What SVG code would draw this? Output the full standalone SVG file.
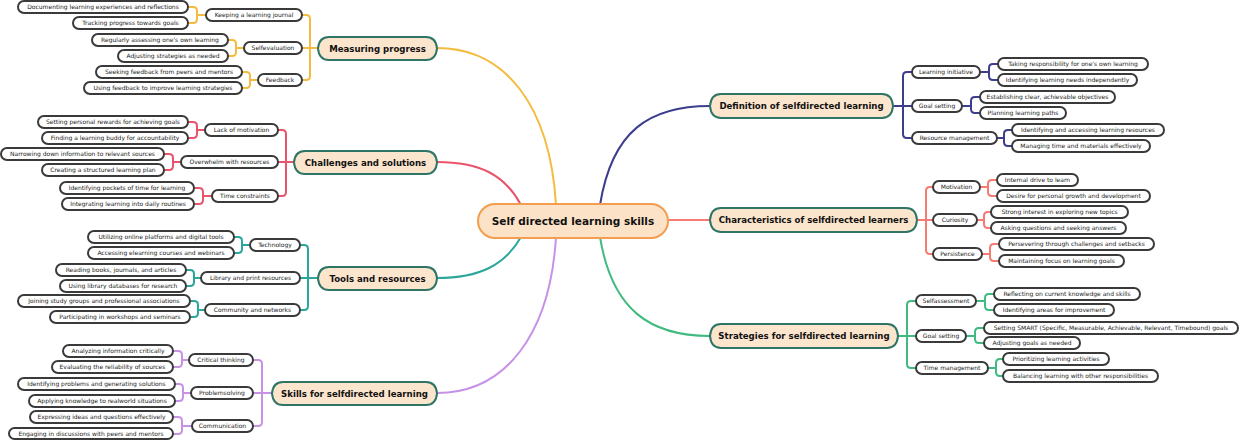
<svg xmlns="http://www.w3.org/2000/svg" width="1240" height="440" viewBox="0 0 1240 440">
<style>
.c{fill:none;stroke-width:2;stroke-linecap:round;stroke-linejoin:round}
.y{stroke:#f3bb3f}.r{stroke:#e9546b}.t{stroke:#2ba69c}.p{stroke:#c792e6}.n{stroke:#3d3d8e}.s{stroke:#f47a72}.g{stroke:#3fbb80}
.leaf rect{fill:#fff;stroke:#3a3a3a;stroke-width:2}
.leaf text{font-family:"DejaVu Sans",sans-serif;font-size:6px;fill:#222;text-anchor:middle}
.main path{fill:#fce5cd;stroke:#2e7565;stroke-width:2}
.main text{font-family:"DejaVu Sans",sans-serif;font-size:8.6px;font-weight:bold;fill:#111;text-anchor:middle}
.root rect{fill:#fce3c8;stroke:#f29d4f;stroke-width:2}
.root text{font-family:"DejaVu Sans",sans-serif;font-size:10.5px;font-weight:bold;fill:#111;text-anchor:middle}
</style>
<g id="connectors">
<path class="c y" d="M556 205 C550 105 505 48 437 48"/>
<path class="c r" d="M521 205 C505 175 480 162 437 162"/>
<path class="c t" d="M521 237 C505 265 480 278 437 278"/>
<path class="c p" d="M556 237 C550 335 505 393 437 393"/>
<path class="c n" d="M600 205 C612 130 650 106 710 106"/>
<path class="c s" d="M668 220 H710"/>
<path class="c g" d="M600 237 C612 310 650 336 710 336"/>
<path class="c y" d="M318 48 H310 V19 Q310 15 306 15 H302 M318 48 H302 M310 48 V76 Q310 80 306 80 H302"/>
<path class="c y" d="M206 15 H197 V11 Q197 7 193 7 H188 M197 15 V19 Q197 23 193 23 H188"/>
<path class="c y" d="M244 48 H236 V44 Q236 40 232 40 H228 M236 48 V52 Q236 56 232 56 H228"/>
<path class="c y" d="M258 80 H250 V76 Q250 72 246 72 H242 M250 80 V84 Q250 88 246 88 H242"/>
<path class="c r" d="M294 162 H286 V134 Q286 130 282 130 H278 M294 162 H278 M286 162 V192 Q286 196 282 196 H278"/>
<path class="c r" d="M205 130 H197 V126 Q197 122 193 122 H188 M197 130 V134 Q197 138 193 138 H188"/>
<path class="c r" d="M181 162 H173 V158 Q173 154 169 154 H164 M173 162 V166 Q173 170 169 170 H164"/>
<path class="c r" d="M212 196 H203 V192 Q203 188 199 188 H194 M203 196 V200 Q203 204 199 204 H194"/>
<path class="c t" d="M318 278 H308 V249 Q308 245 304 245 H300 M318 278 H300 M308 278 V306 Q308 310 304 310 H300"/>
<path class="c t" d="M250 245 H242 V241 Q242 237 238 237 H234 M242 245 V249 Q242 253 238 253 H234"/>
<path class="c t" d="M201 278 H194 V274 Q194 270 190 270 H186 M194 278 V282 Q194 286 190 286 H186"/>
<path class="c t" d="M205 310 H198 V305 Q198 301 194 301 H190 M198 310 V313 Q198 317 194 317 H190"/>
<path class="c p" d="M272 393 H262 V364 Q262 360 258 360 H253 M272 393 H253 M262 393 V422 Q262 426 258 426 H253"/>
<path class="c p" d="M189 360 H182 V355 Q182 351 178 351 H173 M182 360 V363 Q182 367 178 367 H173"/>
<path class="c p" d="M191 393 H183 V388 Q183 384 179 384 H175 M183 393 V397 Q183 401 179 401 H175"/>
<path class="c p" d="M192 426 H182 V421 Q182 417 178 417 H173 M182 426 V430 Q182 434 178 434 H173"/>
<path class="c n" d="M893 106 H903 V76 Q903 72 907 72 H912 M893 106 H912 M903 106 V134 Q903 138 907 138 H912"/>
<path class="c n" d="M980 72 H989 V68 Q989 64 993 64 H998 M989 72 V76 Q989 80 993 80 H998"/>
<path class="c n" d="M962 106 H971 V101 Q971 97 975 97 H980 M971 106 V109 Q971 113 975 113 H980"/>
<path class="c n" d="M997 138 H1004 V134 Q1004 130 1008 130 H1012 M1004 138 V142 Q1004 146 1008 146 H1012"/>
<path class="c s" d="M917 220 H926 V191 Q926 187 930 187 H933 M917 220 H933 M926 220 V250 Q926 254 930 254 H933"/>
<path class="c s" d="M980 187 H988 V184 Q988 180 992 180 H997 M988 187 V192 Q988 196 992 196 H997"/>
<path class="c s" d="M977 220 H984 V216 Q984 212 988 212 H991 M984 220 V224 Q984 228 988 228 H991"/>
<path class="c s" d="M982 254 H990 V248 Q990 244 994 244 H999 M990 254 V257 Q990 261 994 261 H999"/>
<path class="c g" d="M898 336 H907 V305 Q907 301 911 301 H916 M898 336 H916 M907 336 V364 Q907 368 911 368 H916"/>
<path class="c g" d="M976 301 H985 V298 Q985 294 989 294 H994 M985 301 V306 Q985 310 989 310 H994"/>
<path class="c g" d="M966 336 H975 V332 Q975 328 979 328 H984 M975 336 V339 Q975 343 979 343 H984"/>
<path class="c g" d="M988 368 H996 V363 Q996 359 1000 359 H1003 M996 368 V372 Q996 376 1000 376 H1003"/>
</g>
<g id="root" class="root"><rect x="478" y="204" width="190" height="34" rx="17"/><text x="573" y="225">Self directed learning skills</text></g>
<g id="m1" class="main"><path d="M329 37 H426 Q436 37 437 48.5 Q436 60 426 60 H329 Q319 60 318 48.5 Q319 37 329 37 Z"/><text x="377.5" y="51.5">Measuring progress</text></g>
<g id="m2" class="main"><path d="M305 151 H426 Q436 151 437 162.5 Q436 174 426 174 H305 Q295 174 294 162.5 Q295 151 305 151 Z"/><text x="365.5" y="165.5">Challenges and solutions</text></g>
<g id="m3" class="main"><path d="M329 267 H426 Q436 267 437 278.5 Q436 290 426 290 H329 Q319 290 318 278.5 Q319 267 329 267 Z"/><text x="377.5" y="281.5">Tools and resources</text></g>
<g id="m4" class="main"><path d="M283 382 H426 Q436 382 437 393.5 Q436 405 426 405 H283 Q273 405 272 393.5 Q273 382 283 382 Z"/><text x="354.5" y="396.5">Skills for selfdirected learning</text></g>
<g id="m5" class="main"><path d="M721 94 H882 Q892 94 893 106 Q892 118 882 118 H721 Q711 118 710 106 Q711 94 721 94 Z"/><text x="801.5" y="109">Definition of selfdirected learning</text></g>
<g id="m6" class="main"><path d="M721 208 H906 Q916 208 917 220 Q916 232 906 232 H721 Q711 232 710 220 Q711 208 721 208 Z"/><text x="813.5" y="223">Characteristics of selfdirected learners</text></g>
<g id="m7" class="main"><path d="M721 324 H887 Q897 324 898 336 Q897 348 887 348 H721 Q711 348 710 336 Q711 324 721 324 Z"/><text x="804" y="339">Strategies for selfdirected learning</text></g>
<g id="n1" class="leaf"><rect x="206" y="9" width="96" height="12" rx="6"/><text x="254" y="17.2">Keeping a learning journal</text></g>
<g id="n2" class="leaf"><rect x="244" y="42" width="58" height="12" rx="6"/><text x="273" y="50.2">Selfevaluation</text></g>
<g id="n3" class="leaf"><rect x="258" y="74" width="44" height="12" rx="6"/><text x="280" y="82.2">Feedback</text></g>
<g id="n4" class="leaf"><rect x="18" y="1" width="170" height="12" rx="6"/><text x="103" y="9.2">Documenting learning experiences and reflections</text></g>
<g id="n5" class="leaf"><rect x="73" y="17" width="115" height="12" rx="6"/><text x="130.5" y="25.2">Tracking progress towards goals</text></g>
<g id="n6" class="leaf"><rect x="92" y="34" width="136" height="12" rx="6"/><text x="160" y="42.2">Regularly assessing one's own learning</text></g>
<g id="n7" class="leaf"><rect x="118" y="50" width="110" height="12" rx="6"/><text x="173" y="58.2">Adjusting strategies as needed</text></g>
<g id="n8" class="leaf"><rect x="96" y="66" width="146" height="12" rx="6"/><text x="169" y="74.2">Seeking feedback from peers and mentors</text></g>
<g id="n9" class="leaf"><rect x="84" y="82" width="158" height="12" rx="6"/><text x="163" y="90.2">Using feedback to improve learning strategies</text></g>
<g id="n10" class="leaf"><rect x="205" y="124" width="73" height="12" rx="6"/><text x="241.5" y="132.2">Lack of motivation</text></g>
<g id="n11" class="leaf"><rect x="181" y="156" width="97" height="12" rx="6"/><text x="229.5" y="164.2">Overwhelm with resources</text></g>
<g id="n12" class="leaf"><rect x="212" y="190" width="66" height="12" rx="6"/><text x="245" y="198.2">Time constraints</text></g>
<g id="n13" class="leaf"><rect x="38" y="116" width="150" height="12" rx="6"/><text x="113" y="124.2">Setting personal rewards for achieving goals</text></g>
<g id="n14" class="leaf"><rect x="42" y="132" width="146" height="12" rx="6"/><text x="115" y="140.2">Finding a learning buddy for accountability</text></g>
<g id="n15" class="leaf"><rect x="1" y="148" width="163" height="12" rx="6"/><text x="82.5" y="156.2">Narrowing down information to relevant sources</text></g>
<g id="n16" class="leaf"><rect x="42" y="164" width="122" height="12" rx="6"/><text x="103" y="172.2">Creating a structured learning plan</text></g>
<g id="n17" class="leaf"><rect x="60" y="182" width="134" height="12" rx="6"/><text x="127" y="190.2">Identifying pockets of time for learning</text></g>
<g id="n18" class="leaf"><rect x="62" y="198" width="132" height="12" rx="6"/><text x="128" y="206.2">Integrating learning into daily routines</text></g>
<g id="n19" class="leaf"><rect x="250" y="239" width="50" height="12" rx="6"/><text x="275" y="247.2">Technology</text></g>
<g id="n20" class="leaf"><rect x="201" y="272" width="99" height="12" rx="6"/><text x="250.5" y="280.2">Library and print resources</text></g>
<g id="n21" class="leaf"><rect x="205" y="304" width="95" height="12" rx="6"/><text x="252.5" y="312.2">Community and networks</text></g>
<g id="n22" class="leaf"><rect x="88" y="231" width="146" height="12" rx="6"/><text x="161" y="239.2">Utilizing online platforms and digital tools</text></g>
<g id="n23" class="leaf"><rect x="88" y="247" width="146" height="12" rx="6"/><text x="161" y="255.2">Accessing elearning courses and webinars</text></g>
<g id="n24" class="leaf"><rect x="56" y="264" width="130" height="12" rx="6"/><text x="121" y="272.2">Reading books, journals, and articles</text></g>
<g id="n25" class="leaf"><rect x="60" y="280" width="126" height="12" rx="6"/><text x="123" y="288.2">Using library databases for research</text></g>
<g id="n26" class="leaf"><rect x="18" y="295" width="172" height="12" rx="6"/><text x="104" y="303.2">Joining study groups and professional associations</text></g>
<g id="n27" class="leaf"><rect x="50" y="311" width="140" height="12" rx="6"/><text x="120" y="319.2">Participating in workshops and seminars</text></g>
<g id="n28" class="leaf"><rect x="189" y="354" width="64" height="12" rx="6"/><text x="221" y="362.2">Critical thinking</text></g>
<g id="n29" class="leaf"><rect x="191" y="387" width="62" height="12" rx="6"/><text x="222" y="395.2">Problemsolving</text></g>
<g id="n30" class="leaf"><rect x="192" y="420" width="61" height="12" rx="6"/><text x="222.5" y="428.2">Communication</text></g>
<g id="n31" class="leaf"><rect x="63" y="345" width="110" height="12" rx="6"/><text x="118" y="353.2">Analyzing information critically</text></g>
<g id="n32" class="leaf"><rect x="52" y="361" width="121" height="12" rx="6"/><text x="112.5" y="369.2">Evaluating the reliability of sources</text></g>
<g id="n33" class="leaf"><rect x="18" y="378" width="157" height="12" rx="6"/><text x="96.5" y="386.2">Identifying problems and generating solutions</text></g>
<g id="n34" class="leaf"><rect x="29" y="395" width="146" height="12" rx="6"/><text x="102" y="403.2">Applying knowledge to realworld situations</text></g>
<g id="n35" class="leaf"><rect x="30" y="411" width="143" height="12" rx="6"/><text x="101.5" y="419.2">Expressing ideas and questions effectively</text></g>
<g id="n36" class="leaf"><rect x="9" y="428" width="164" height="11" rx="5.5"/><text x="91" y="435.7">Engaging in discussions with peers and mentors</text></g>
<g id="n37" class="leaf"><rect x="912" y="66" width="68" height="12" rx="6"/><text x="946" y="74.2">Learning initiative</text></g>
<g id="n38" class="leaf"><rect x="912" y="100" width="50" height="12" rx="6"/><text x="937" y="108.2">Goal setting</text></g>
<g id="n39" class="leaf"><rect x="912" y="132" width="85" height="12" rx="6"/><text x="954.5" y="140.2">Resource management</text></g>
<g id="n40" class="leaf"><rect x="998" y="58" width="150" height="12" rx="6"/><text x="1073" y="66.2">Taking responsibility for one's own learning</text></g>
<g id="n41" class="leaf"><rect x="998" y="74" width="139" height="12" rx="6"/><text x="1067.5" y="82.2">Identifying learning needs independently</text></g>
<g id="n42" class="leaf"><rect x="980" y="91" width="135" height="12" rx="6"/><text x="1047.5" y="99.2">Establishing clear, achievable objectives</text></g>
<g id="n43" class="leaf"><rect x="980" y="107" width="86" height="12" rx="6"/><text x="1023" y="115.2">Planning learning paths</text></g>
<g id="n44" class="leaf"><rect x="1012" y="124" width="152" height="12" rx="6"/><text x="1088" y="132.2">Identifying and accessing learning resources</text></g>
<g id="n45" class="leaf"><rect x="1012" y="140" width="138" height="12" rx="6"/><text x="1081" y="148.2">Managing time and materials effectively</text></g>
<g id="n46" class="leaf"><rect x="933" y="181" width="47" height="12" rx="6"/><text x="956.5" y="189.2">Motivation</text></g>
<g id="n47" class="leaf"><rect x="933" y="214" width="44" height="12" rx="6"/><text x="955" y="222.2">Curiosity</text></g>
<g id="n48" class="leaf"><rect x="933" y="248" width="49" height="12" rx="6"/><text x="957.5" y="256.2">Persistence</text></g>
<g id="n49" class="leaf"><rect x="997" y="174" width="81" height="12" rx="6"/><text x="1037.5" y="182.2">Internal drive to learn</text></g>
<g id="n50" class="leaf"><rect x="997" y="190" width="153" height="12" rx="6"/><text x="1073.5" y="198.2">Desire for personal growth and development</text></g>
<g id="n51" class="leaf"><rect x="991" y="206" width="137" height="12" rx="6"/><text x="1059.5" y="214.2">Strong interest in exploring new topics</text></g>
<g id="n52" class="leaf"><rect x="991" y="222" width="135" height="12" rx="6"/><text x="1058.5" y="230.2">Asking questions and seeking answers</text></g>
<g id="n53" class="leaf"><rect x="999" y="238" width="155" height="12" rx="6"/><text x="1076.5" y="246.2">Persevering through challenges and setbacks</text></g>
<g id="n54" class="leaf"><rect x="999" y="255" width="125" height="12" rx="6"/><text x="1061.5" y="263.2">Maintaining focus on learning goals</text></g>
<g id="n55" class="leaf"><rect x="916" y="295" width="60" height="12" rx="6"/><text x="946" y="303.2">Selfassessment</text></g>
<g id="n56" class="leaf"><rect x="916" y="330" width="50" height="12" rx="6"/><text x="941" y="338.2">Goal setting</text></g>
<g id="n57" class="leaf"><rect x="916" y="362" width="72" height="12" rx="6"/><text x="952" y="370.2">Time management</text></g>
<g id="n58" class="leaf"><rect x="994" y="288" width="146" height="12" rx="6"/><text x="1067" y="296.2">Reflecting on current knowledge and skills</text></g>
<g id="n59" class="leaf"><rect x="994" y="304" width="120" height="12" rx="6"/><text x="1054" y="312.2">Identifying areas for improvement</text></g>
<g id="n60" class="leaf"><rect x="984" y="322" width="254" height="12" rx="6"/><text x="1111" y="330.2">Setting SMART (Specific, Measurable, Achievable, Relevant, Timebound) goals</text></g>
<g id="n61" class="leaf"><rect x="984" y="337" width="96" height="12" rx="6"/><text x="1032" y="345.2">Adjusting goals as needed</text></g>
<g id="n62" class="leaf"><rect x="1003" y="353" width="106" height="12" rx="6"/><text x="1056" y="361.2">Prioritizing learning activities</text></g>
<g id="n63" class="leaf"><rect x="1003" y="370" width="155" height="12" rx="6"/><text x="1080.5" y="378.2">Balancing learning with other responsibilities</text></g>
</svg>
